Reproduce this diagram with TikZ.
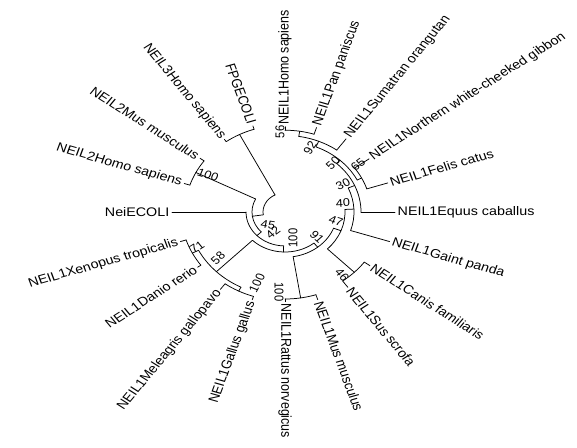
\documentclass[tikz,border=0pt]{standalone}
\usepackage{fontspec}
\setmainfont{Liberation Sans}
\tikzset{
  tree/.style={line width=0.75pt, line cap=round},
  leaf/.style={inner sep=0pt, font=\fontsize{14.3}{16}\selectfont},
  bs/.style={inner sep=0pt, font=\fontsize{12.8}{14}\selectfont}
}
% clade: name, angle, radius, parent radius, arc start, arc end
\newcommand\clade[6]{%
  \coordinate (#1) at (#2:#3);
  \coordinate (#1-base) at (#2:#4);
  \draw[tree] (#1-base) -- (#1);
  \draw[tree] (#5:#3) arc[start angle=#5, end angle=#6, radius=#3];
}
% leaf on right half: name, angle, tip radius, parent radius, text
\newcommand\leafR[5]{%
  \coordinate (#1-base) at (#2:#4);
  \coordinate (#1-tip) at (#2:#3);
  \draw[tree] (#1-base) -- (#1-tip);
  \node[leaf, anchor=west, rotate=#2] (#1) at (#2:{#3+2.5}) {#5};
}
% leaf on left half
\newcommand\leafL[5]{%
  \coordinate (#1-base) at (#2:#4);
  \coordinate (#1-tip) at (#2:#3);
  \draw[tree] (#1-base) -- (#1-tip);
  \node[leaf, anchor=east, rotate={#2-180}] (#1) at (#2:{#3+2.5}) {#5};
}
\begin{document}
\begin{tikzpicture}[x=1pt,y=1pt]
\fill[white] (0,0) rectangle (577,447);
\useasboundingbox (0,0) rectangle (577,447);
\begin{scope}[shift={(285,235)}, yscale=0.87, transform shape]
  % root
  \coordinate (root) at (152.75:22);
  \draw[tree] (117:22) arc[start angle=117, end angle=188.5, radius=22];
  \clade{nFN}{117}{100}{22}{108}{126}
  \clade{Z}{188.5}{33}{22}{153}{224}
  \clade{n100b}{153}{100}{33}{144}{162}
  \clade{W}{224}{39}{33}{180}{268}
  \clade{V}{268}{46}{39}{225}{309}
  \clade{n58}{225}{97}{46}{207}{243}
  \clade{n71}{207}{104}{97}{198}{216}
  \clade{n100c}{243}{102}{97}{234}{252}
  \clade{n91}{309}{52}{46}{279}{339}
  \clade{n100a}{279}{100}{52}{270}{288}
  \clade{n47}{339}{60}{52}{315}{362.8}
  \clade{n46}{315}{98}{60}{306}{324}
  \clade{n40}{362.8}{69}{60}{342}{383.6}
  \clade{n30}{23.6}{76}{69}{0}{47.25}
  \clade{n50}{47.25}{81}{76}{27}{67.5}
  \clade{n65}{27}{86}{81}{18}{36}
  \clade{n92}{67.5}{88}{81}{54}{81}
  \clade{n56}{81}{94}{88}{72}{90}
  % leaves
  \leafR{hom1}{90}{98}{94}{NEIL1Homo sapiens}
  \leafR{pan}{72}{102}{94}{NEIL1Pan paniscus}
  \leafR{sum}{54}{104}{88}{NEIL1Sumatran orangutan}
  \leafR{nor}{36}{104}{86}{NEIL1Northern white-cheeked gibbon}
  \leafR{fel}{18}{108}{86}{NEIL1Felis catus}
  \leafR{equ}{0}{110}{76}{NEIL1Equus caballus}
  \leafR{gpa}{342}{110}{69}{NEIL1Gaint panda}
  \leafR{can}{324}{105}{98}{NEIL1Canis familiaris}
  \leafR{sus}{306}{107}{98}{NEIL1Sus scrofa}
  \leafR{mus1}{288}{106}{100}{NEIL1Mus musculus}
  \leafR{rat}{270}{103}{100}{NEIL1Rattus norvegicus}
  \leafL{gal}{252}{106}{102}{NEIL1Gallus gallus}
  \leafL{mel}{234}{110}{102}{NEIL1Meleagris gallopavo}
  \leafL{dan}{216}{108}{104}{NEIL1Danio rerio}
  \leafL{xen}{198}{110}{104}{NEIL1Xenopus tropicalis}
  \leafL{nei}{180}{113}{39}{NeiECOLI}
  \leafL{hom2}{162}{106}{100}{NEIL2Homo sapiens}
  \leafL{mus2}{144}{105}{100}{NEIL2Mus musculus}
  \leafL{hom3}{126}{103}{100}{NEIL3Homo sapiens}
  \leafL{fpg}{108}{104}{100}{FPGECOLI}
  % bootstrap values
  \node[bs, rotate=90]  (b56)  at (-5,92) {56};
  \node[bs, rotate=60]  (b92)  at (25,73.6) {92};
  \node[bs, rotate=45]  (b50)  at (48,56.3) {50};
  \node[bs, rotate=40]  (b65)  at (73,54) {65};
  \node[bs, rotate=25]  (b30)  at (58,32) {30};
  \node[bs, rotate=3]   (b40)  at (58,10.3) {40};
  \node[bs, rotate=-20] (b47)  at (51,-10) {47};
  \node[bs, rotate=-45] (b91)  at (32,-28.7) {91};
  \node[bs, rotate=-50] (b46)  at (57,-72.4) {46};
  \node[bs, rotate=-90] (b100a) at (-6,-92) {100};
  \node[bs, rotate=90]  (b100v) at (8,-29.9) {100};
  \node[bs, rotate=40]  (b42)  at (-12,-24.1) {42};
  \node[bs, rotate=-10] (b45)  at (-17,-15) {45};
  \node[bs, rotate=-20] (b100b) at (-77,42.5) {100};
  \node[bs, rotate=35]  (b71)  at (-88,-40.2) {71};
  \node[bs, rotate=45]  (b58)  at (-67,-52.9) {58};
  \node[bs, rotate=65]  (b100c) at (-28,-81.6) {100};
\end{scope}
\end{tikzpicture}
\end{document}
